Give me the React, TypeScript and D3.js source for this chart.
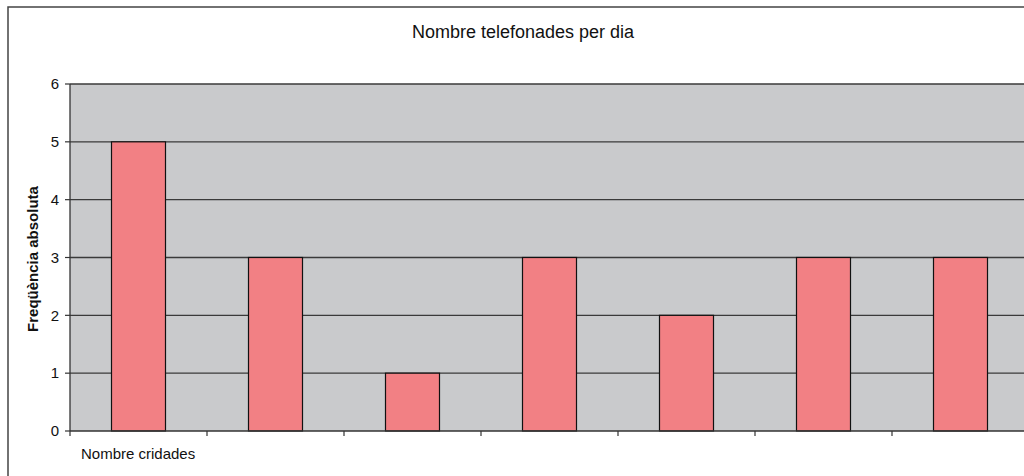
import React from "react";
import * as d3 from "d3";

const categories = ["1", "2", "3", "4", "5", "6", "7"];
const values = [5, 3, 1, 3, 2, 3, 3];
const yTicks = [0, 1, 2, 3, 4, 5, 6];
const title = "Nombre telefonades per dia";
const yLabel = "Freqüència absoluta";
const xLabel = "Nombre cridades";

export default function App() {
  const W = 1024, H = 476;
  const left = 70, top = 84, bottom = 431, right = 1029;
  const x = d3.scaleBand<string>().domain(categories).range([left, right]).paddingInner(0).paddingOuter(0);
  const y = d3.scaleLinear().domain([0, 6]).range([bottom, top]);
  const bw = x.bandwidth();
  const barW = 54;
  const font = "'Liberation Sans', Arial, Helvetica, sans-serif";
  return (
    <svg width={W} height={H} style={{ position: "absolute", left: 0, top: 0, background: "#fff" }} fontFamily={font}>
      <rect x={8} y={7} width={W + 20} height={H + 20} fill="#fff" stroke="#444" strokeWidth={1.5} />
      <rect x={left} y={top} width={right - left} height={bottom - top} fill="#c9cacc" />
      {yTicks.map((t) => (
        <g key={t}>
          {t > 0 && <line x1={left} x2={right} y1={y(t)} y2={y(t)} stroke="#3a3a3a" strokeWidth={1.3} />}
          <line x1={left - 5} x2={left} y1={y(t)} y2={y(t)} stroke="#333" strokeWidth={1.2} />
          <text x={59} y={y(t)} dy="0.35em" textAnchor="end" fontSize={15} fill="#111">{t}</text>
        </g>
      ))}
      {categories.map((c, i) => {
        const cx = (x(c) as number) + bw / 2;
        return (
          <rect key={c} x={cx - barW / 2} y={y(values[i])} width={barW} height={bottom - y(values[i])}
            fill="#f28084" stroke="#111" strokeWidth={1.2} />
        );
      })}
      <line x1={left} x2={left} y1={top} y2={bottom} stroke="#333" strokeWidth={1.3} />
      <line x1={left} x2={right} y1={bottom} y2={bottom} stroke="#333" strokeWidth={1.3} />
      {categories.map((c) => (
        <line key={"t" + c} x1={x(c) as number} x2={x(c) as number} y1={bottom} y2={bottom + 5} stroke="#333" strokeWidth={1.2} />
      ))}
      <text x={523} y={38} textAnchor="middle" fontSize={18} fill="#111">{title}</text>
      <text transform={`translate(38,${259}) rotate(-90)`} textAnchor="middle" fontSize={15} fontWeight="bold" fill="#111">{yLabel}</text>
      <text x={81} y={459} fontSize={15} fill="#111">{xLabel}</text>
    </svg>
  );
}
